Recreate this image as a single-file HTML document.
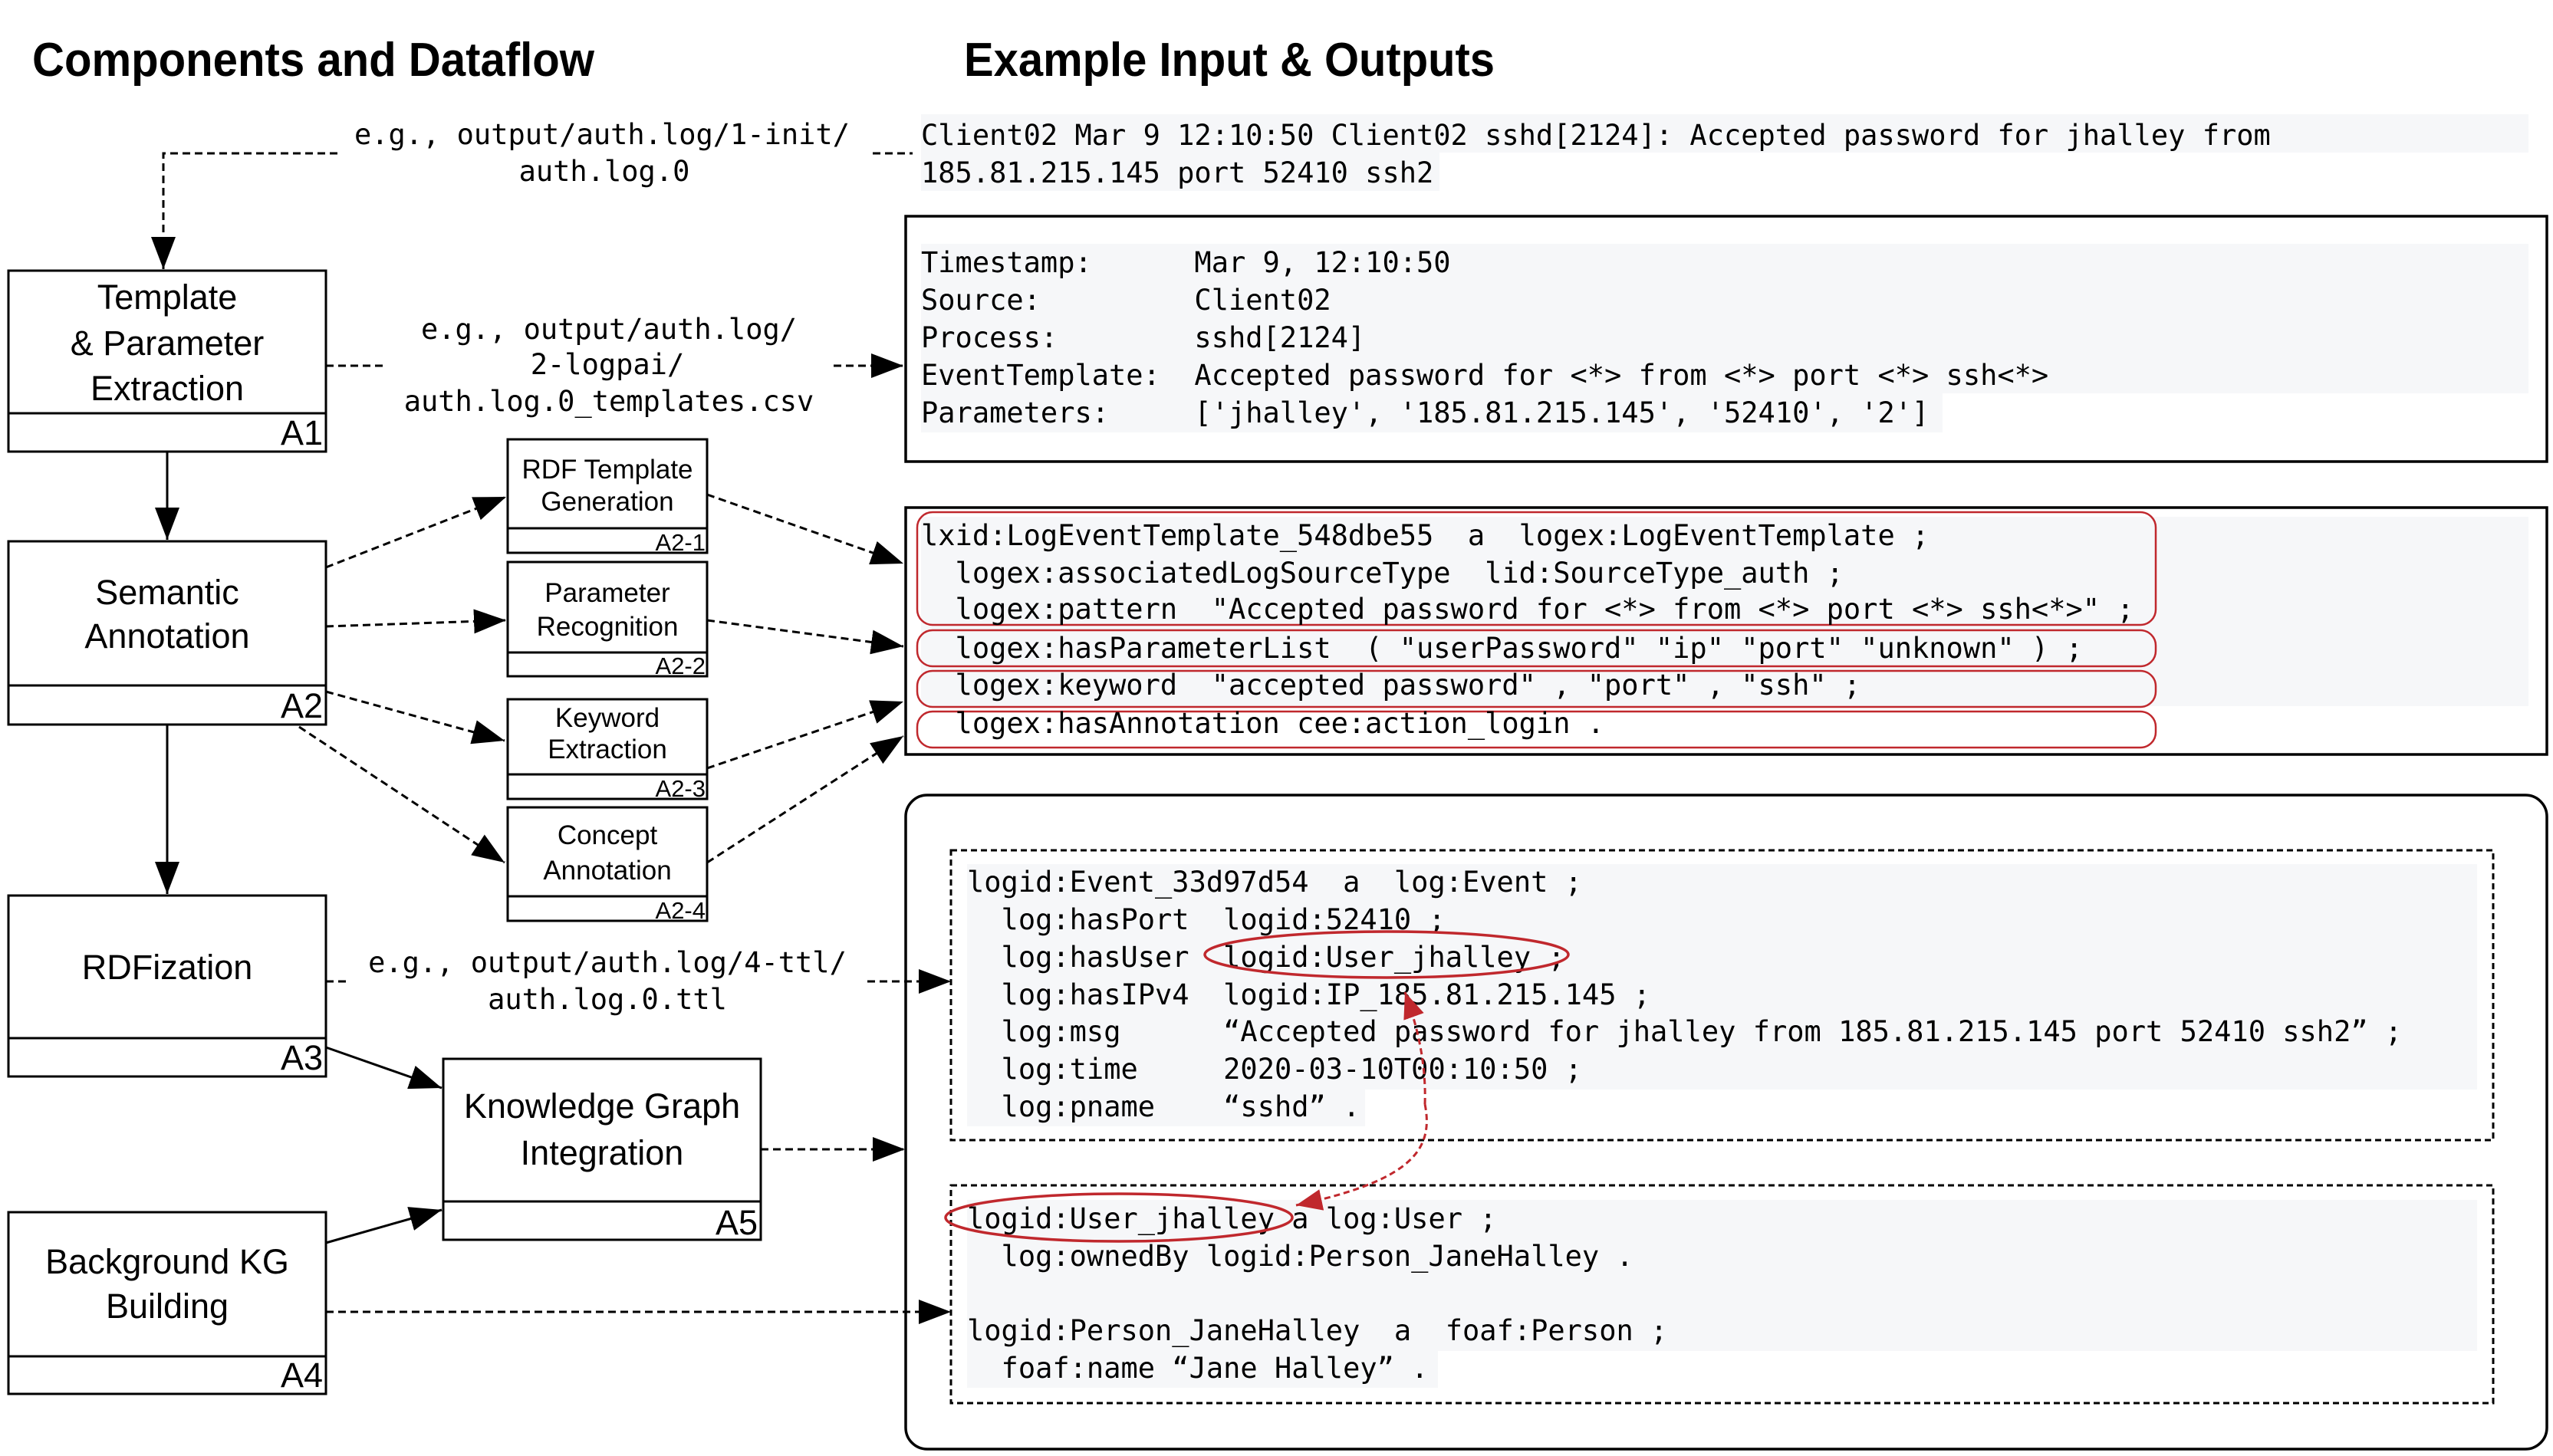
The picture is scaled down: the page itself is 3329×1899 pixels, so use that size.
<!DOCTYPE html>
<html><head><meta charset="utf-8"><style>
html,body{margin:0;padding:0;background:#fff}
svg{display:block}
.s{font-family:"Liberation Sans",Arial,sans-serif;fill:#000}
.m{font-family:"DejaVu Sans Mono","Liberation Mono",monospace;font-size:37px;fill:#000}
</style></head><body>
<svg width="3329" height="1899" viewBox="0 0 3329 1899" xmlns="http://www.w3.org/2000/svg">
<defs>
<marker id="ah" markerUnits="userSpaceOnUse" markerWidth="44" markerHeight="32" refX="42" refY="16" orient="auto"><path d="M0,0 L42,16 L0,32 Z" fill="#000"/></marker>
<marker id="rh" markerUnits="userSpaceOnUse" markerWidth="36" markerHeight="28" refX="34" refY="14" orient="auto"><path d="M0,0 L34,14 L0,28 Z" fill="#c0282d"/></marker>
</defs>
<text class="s" x="42" y="99" font-size="62" font-weight="bold" textLength="733" lengthAdjust="spacingAndGlyphs">Components and Dataflow</text>
<text class="s" x="1257" y="99" font-size="62" font-weight="bold" textLength="692" lengthAdjust="spacingAndGlyphs">Example Input &amp; Outputs</text>

<g fill="none" stroke="#000" stroke-width="3">
<rect x="11" y="353" width="414" height="236"/><line x1="11" y1="539" x2="425" y2="539"/>
<rect x="11" y="706" width="414" height="239"/><line x1="11" y1="894" x2="425" y2="894"/>
<rect x="11" y="1168" width="414" height="236"/><line x1="11" y1="1354" x2="425" y2="1354"/>
<rect x="11" y="1581" width="414" height="237"/><line x1="11" y1="1769" x2="425" y2="1769"/>
<rect x="578" y="1381" width="414" height="236"/><line x1="578" y1="1567" x2="992" y2="1567"/>
<rect x="662" y="573" width="260" height="148"/><line x1="662" y1="689" x2="922" y2="689"/>
<rect x="662" y="733" width="260" height="149"/><line x1="662" y1="851" x2="922" y2="851"/>
<rect x="662" y="912" width="260" height="130"/><line x1="662" y1="1010" x2="922" y2="1010"/>
<rect x="662" y="1053" width="260" height="148"/><line x1="662" y1="1169" x2="922" y2="1169"/>
</g>

<g class="s" font-size="45" text-anchor="middle">
<text x="218" y="403">Template</text><text x="218" y="463">&amp; Parameter</text><text x="218" y="522">Extraction</text>
<text x="218" y="788">Semantic</text><text x="218" y="845">Annotation</text>
<text x="218" y="1277">RDFization</text>
<text x="218" y="1661">Background KG</text><text x="218" y="1719">Building</text>
<text x="785" y="1458">Knowledge Graph</text><text x="785" y="1519">Integration</text>
</g>
<g class="s" font-size="45" text-anchor="end">
<text x="421" y="580">A1</text><text x="421" y="936">A2</text><text x="421" y="1395">A3</text><text x="421" y="1809">A4</text><text x="988" y="1610">A5</text>
</g>
<g class="s" font-size="35" text-anchor="middle">
<text x="792" y="624">RDF Template</text><text x="792" y="666">Generation</text>
<text x="792" y="785">Parameter</text><text x="792" y="829">Recognition</text>
<text x="792" y="948">Keyword</text><text x="792" y="989">Extraction</text>
<text x="792" y="1101">Concept</text><text x="792" y="1147">Annotation</text>
</g>
<g class="s" font-size="31" text-anchor="end">
<text x="920" y="718">A2-1</text><text x="920" y="879">A2-2</text><text x="920" y="1039">A2-3</text><text x="920" y="1198">A2-4</text>
</g>

<g fill="none" stroke="#000" stroke-width="3">
<line x1="218" y1="589" x2="218" y2="704" marker-end="url(#ah)"/>
<line x1="218" y1="945" x2="218" y2="1166" marker-end="url(#ah)"/>
<line x1="425" y1="1366" x2="576" y2="1419" marker-end="url(#ah)"/>
<line x1="425" y1="1621" x2="576" y2="1578" marker-end="url(#ah)"/>
</g>
<g fill="none" stroke="#000" stroke-width="3" stroke-dasharray="10,6">
<polyline points="440,200 213,200 213,351" marker-end="url(#ah)"/>
<line x1="1138" y1="200" x2="1190" y2="200"/>
<line x1="425" y1="477" x2="501" y2="477"/>
<line x1="1087" y1="477" x2="1178" y2="477" marker-end="url(#ah)"/>
<line x1="425" y1="740" x2="660" y2="648" marker-end="url(#ah)"/>
<line x1="425" y1="817" x2="660" y2="809" marker-end="url(#ah)"/>
<line x1="425" y1="902" x2="658" y2="966" marker-end="url(#ah)"/>
<line x1="390" y1="948" x2="658" y2="1125" marker-end="url(#ah)"/>
<line x1="922" y1="645" x2="1178" y2="735" marker-end="url(#ah)"/>
<line x1="922" y1="809" x2="1178" y2="843" marker-end="url(#ah)"/>
<line x1="922" y1="1002" x2="1178" y2="915" marker-end="url(#ah)"/>
<line x1="922" y1="1125" x2="1178" y2="960" marker-end="url(#ah)"/>
<line x1="425" y1="1280" x2="451" y2="1280"/>
<line x1="1131" y1="1280" x2="1240" y2="1280" marker-end="url(#ah)"/>
<line x1="992" y1="1499" x2="1180" y2="1499" marker-end="url(#ah)"/>
<line x1="425" y1="1711" x2="1240" y2="1711" marker-end="url(#ah)"/>
</g>

<g class="m" text-anchor="middle">
<text x="785" y="188">e.g.,&#160;output/auth.log/1-init/</text><text x="788" y="236">auth.log.0</text>
<text x="794" y="442">e.g.,&#160;output/auth.log/</text><text x="792" y="488">2-logpai/</text><text x="794" y="536">auth.log.0_templates.csv</text>
<text x="792" y="1268">e.g.,&#160;output/auth.log/4-ttl/</text><text x="792" y="1316">auth.log.0.ttl</text>
</g>

<g fill="#f6f7f9">
<rect x="1201" y="149" width="2096" height="50"/><rect x="1201" y="199" width="676" height="50"/>
<rect x="1201" y="318" width="2096" height="195"/><rect x="1201" y="513" width="1332" height="51"/>
<rect x="1201" y="674" width="2096" height="247"/>
<rect x="1261" y="1127" width="1969" height="294"/><rect x="1261" y="1421" width="519" height="48"/>
<rect x="1261" y="1565" width="1969" height="197"/><rect x="1261" y="1762" width="614" height="48"/>
</g>

<g fill="none" stroke="#000" stroke-width="3.5">
<rect x="1181" y="282" width="2140" height="320"/>
<rect x="1181" y="662" width="2140" height="322"/>
<rect x="1181" y="1037" width="2140" height="853" rx="28"/>
</g>
<g fill="none" stroke="#000" stroke-width="3" stroke-dasharray="8,5">
<rect x="1240" y="1109" width="2011" height="378"/>
<rect x="1240" y="1546" width="2011" height="284"/>
</g>
<g fill="none" stroke="#c0282d" stroke-width="2.5">
<rect x="1196" y="668" width="1615" height="147" rx="20"/>
<rect x="1196" y="822" width="1615" height="47" rx="20"/>
<rect x="1196" y="875" width="1615" height="47" rx="20"/>
<rect x="1196" y="928" width="1615" height="47" rx="20"/>
</g>

<g class="m">
<text x="1201" y="189">Client02&#160;Mar&#160;9&#160;12:10:50&#160;Client02&#160;sshd[2124]:&#160;Accepted&#160;password&#160;for&#160;jhalley&#160;from</text>
<text x="1201" y="238">185.81.215.145&#160;port&#160;52410&#160;ssh2</text>
<text x="1201" y="355">Timestamp:&#160;&#160;&#160;&#160;&#160;&#160;Mar&#160;9,&#160;12:10:50</text>
<text x="1201" y="404">Source:&#160;&#160;&#160;&#160;&#160;&#160;&#160;&#160;&#160;Client02</text>
<text x="1201" y="453">Process:&#160;&#160;&#160;&#160;&#160;&#160;&#160;&#160;sshd[2124]</text>
<text x="1201" y="502">EventTemplate:&#160;&#160;Accepted&#160;password&#160;for&#160;&lt;*&gt;&#160;from&#160;&lt;*&gt;&#160;port&#160;&lt;*&gt;&#160;ssh&lt;*&gt;</text>
<text x="1201" y="551">Parameters:&#160;&#160;&#160;&#160;&#160;['jhalley',&#160;'185.81.215.145',&#160;'52410',&#160;'2']</text>
<text x="1201" y="711">lxid:LogEventTemplate_548dbe55&#160;&#160;a&#160;&#160;logex:LogEventTemplate&#160;;</text>
<text x="1201" y="760">&#160;&#160;logex:associatedLogSourceType&#160;&#160;lid:SourceType_auth&#160;;</text>
<text x="1201" y="807">&#160;&#160;logex:pattern&#160;&#160;"Accepted&#160;password&#160;for&#160;&lt;*&gt;&#160;from&#160;&lt;*&gt;&#160;port&#160;&lt;*&gt;&#160;ssh&lt;*&gt;"&#160;;</text>
<text x="1201" y="858">&#160;&#160;logex:hasParameterList&#160;&#160;(&#160;"userPassword"&#160;"ip"&#160;"port"&#160;"unknown"&#160;)&#160;;</text>
<text x="1201" y="906">&#160;&#160;logex:keyword&#160;&#160;"accepted&#160;password"&#160;,&#160;"port"&#160;,&#160;"ssh"&#160;;</text>
<text x="1201" y="956">&#160;&#160;logex:hasAnnotation&#160;cee:action_login&#160;.</text>
<text x="1261" y="1163">logid:Event_33d97d54&#160;&#160;a&#160;&#160;log:Event&#160;;</text>
<text x="1261" y="1212">&#160;&#160;log:hasPort&#160;&#160;logid:52410&#160;;</text>
<text x="1261" y="1261">&#160;&#160;log:hasUser&#160;&#160;logid:User_jhalley&#160;;</text>
<text x="1261" y="1310">&#160;&#160;log:hasIPv4&#160;&#160;logid:IP_185.81.215.145&#160;;</text>
<text x="1261" y="1358">&#160;&#160;log:msg&#160;&#160;&#160;&#160;&#160;&#160;“Accepted&#160;password&#160;for&#160;jhalley&#160;from&#160;185.81.215.145&#160;port&#160;52410&#160;ssh2”&#160;;</text>
<text x="1261" y="1407">&#160;&#160;log:time&#160;&#160;&#160;&#160;&#160;2020-03-10T00:10:50&#160;;</text>
<text x="1261" y="1456">&#160;&#160;log:pname&#160;&#160;&#160;&#160;“sshd”&#160;.</text>
<text x="1261" y="1602">logid:User_jhalley&#160;a&#160;log:User&#160;;</text>
<text x="1261" y="1651">&#160;&#160;log:ownedBy&#160;logid:Person_JaneHalley&#160;.</text>
<text x="1261" y="1748">logid:Person_JaneHalley&#160;&#160;a&#160;&#160;foaf:Person&#160;;</text>
<text x="1261" y="1797">&#160;&#160;foaf:name&#160;“Jane&#160;Halley”&#160;.</text>
</g>

<g fill="none" stroke="#c0282d" stroke-width="3.5">
<ellipse cx="1808" cy="1245" rx="237" ry="30"/>
<ellipse cx="1459" cy="1588" rx="226" ry="31"/>
</g>
<path d="M1858,1440 C1870,1500 1840,1540 1690,1572" fill="none" stroke="#c0282d" stroke-width="3" stroke-dasharray="8,5" marker-end="url(#rh)"/>
<path d="M1858,1440 C1860,1380 1845,1330 1832,1294" fill="none" stroke="#c0282d" stroke-width="3" stroke-dasharray="8,5" marker-end="url(#rh)"/>
</svg>
</body></html>
